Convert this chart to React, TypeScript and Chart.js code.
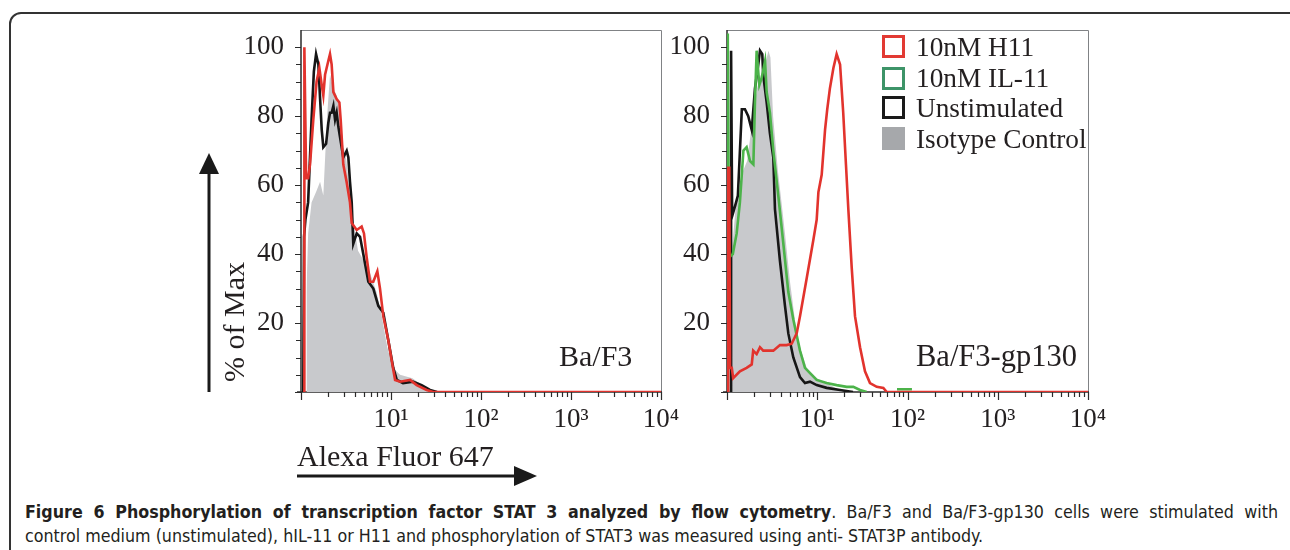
import React, { useEffect, useRef } from "react";
import { Chart, registerables } from "chart.js";

Chart.register(...registerables);

// ---------- data (fluorescence value, % of max) ----------
// Left panel: Ba/F3
const leftRedX = [1.09, 1.09, 1.14, 1.2, 1.26, 1.37, 1.49, 1.6, 1.7, 1.77, 1.85, 2.01, 2.1, 2.19, 2.29, 2.49, 2.67, 2.76, 2.95, 3.21, 3.5, 3.66, 4.16, 4.72, 5.01, 5.37, 5.84, 6.36, 7.05, 7.55, 8.21, 9.33, 10.2, 11.1, 12.6, 16.3, 19.3, 24.9, 29.3, 10000];
const leftRedY = [0, 100, 62, 62, 66, 79, 90, 94, 89, 86, 92, 96, 98, 95, 87, 85, 84, 79, 66, 61, 55, 49, 47, 48, 46, 39, 32, 32, 35, 30, 22, 15, 9, 3.5, 3, 3.5, 2, 0.6, 0, 0];

const leftBlackX = [1.06, 1.08, 1.12, 1.2, 1.31, 1.39, 1.47, 1.56, 1.63, 1.7, 1.77, 1.9, 2.01, 2.1, 2.19, 2.29, 2.39, 2.49, 2.6, 2.71, 2.95, 3.22, 3.36, 3.5, 3.66, 3.81, 4.16, 4.53, 4.92, 5.6, 6.36, 7.23, 8.21, 9.33, 10.6, 11.6, 13.6, 17.5, 21.9, 27.1, 32.4];
const leftBlackY = [0, 45, 50, 55, 79, 93, 98, 95, 85, 76, 71, 72, 78, 81, 81, 83, 79, 81, 77, 74, 68, 70, 68, 61, 55, 43, 46, 45, 40, 32, 30, 25, 23, 15, 7, 3.5, 2.6, 3, 2, 0.6, 0];

const leftIsoX = [1.15, 1.15, 1.2, 1.31, 1.47, 1.63, 1.77, 1.95, 2.1, 2.29, 2.49, 2.75, 2.92, 3.2, 3.5, 4.0, 4.3, 5.0, 5.75, 6.9, 7.9, 9.1, 10.5, 12.6, 17.3, 22.0, 27.5, 30.0];
const leftIsoY = [0, 29, 46, 55, 58, 61, 57, 80, 92, 88, 86, 80, 72, 67, 57, 46, 41, 38, 35, 29, 22, 13, 7, 5, 4, 2, 0.5, 0];

// Right panel: Ba/F3-gp130
const rightRedX = [1.03, 1.03, 1.06, 1.08, 1.13, 1.17, 1.39, 1.65, 1.88, 1.95, 2.13, 2.32, 2.52, 2.87, 3.26, 3.86, 4.58, 5.21, 5.92, 6.44, 7.64, 9.04, 9.86, 10.3, 11.2, 12.2, 12.9, 13.8, 15.1, 16.4, 17.9, 19.4, 20.8, 22.1, 24.1, 26.2, 29.8, 33.8, 38.4, 45.6, 54.0, 58.9, 10000];
const rightRedY = [0, 65, 65, 7, 7, 4, 6, 7, 8, 12, 11, 13, 12, 12, 12, 13.6, 13.6, 14, 17, 22, 33, 44, 50, 58, 63, 76, 82, 88, 94, 98, 95, 81, 66, 53, 36, 22, 13, 6, 2.6, 1.5, 1.2, 0, 0];

const rightGreenX = [1.02, 1.02, 1.05, 1.16, 1.28, 1.39, 1.52, 1.65, 1.8, 1.96, 2.04, 2.13, 2.28, 2.42, 2.64, 2.75, 2.99, 3.26, 3.7, 4.21, 4.78, 5.43, 6.44, 7.31, 8.31, 9.86, 12.7, 16.4, 21.2, 25.1, 29.8, 35.3, 50, 76.5, 112];
const rightGreenY = [0, 104, 39, 40, 46, 55, 70, 71, 67, 66, 84, 99, 89, 91, 96, 87, 81, 70, 57, 43, 29, 21, 12, 7, 5.5, 3.5, 2.6, 2, 1.5, 1.5, 0.6, 0, null, 0.8, 0.8];

const rightBlackX = [1.11, 1.11, 1.14, 1.23, 1.32, 1.46, 1.58, 1.72, 1.88, 2.04, 2.22, 2.32, 2.46, 2.52, 2.75, 2.99, 3.26, 3.4, 3.86, 4.39, 4.78, 5.43, 6.44, 7.31, 8.31, 9.86, 12.7, 17.9, 24.9];
const rightBlackY = [0, 99, 51, 54, 57, 82, 82, 80, 76, 88, 95, 99, 98, 92, 84, 75, 68, 53, 38, 25, 17, 10, 4.3, 2.6, 3, 2, 1.2, 0.6, 0];

const rightIsoX = [1.06, 1.06, 1.26, 1.5, 1.67, 1.94, 2.15, 2.38, 2.64, 2.88, 3.03, 3.24, 3.67, 4.02, 4.39, 4.99, 5.92, 6.61, 7.64, 9.86, 13.8, 17.9, 20.4];
const rightIsoY = [0, 32, 55, 64, 67, 80, 88, 92, 95, 99, 97, 80, 64, 55, 46, 32, 17, 12, 7, 4, 2, 0.5, 0];

// ticks & labels
const xTickValues = [10, 100, 1000, 10000];
const xTickLabels = ["10\u00b9", "10\u00b2", "10\u00b3", "10\u2074"];
const yTickValues = [20, 40, 60, 80, 100];
const yTickLabels = ["20", "40", "60", "80", "100"];

const legendLabels = ["10nM H11", "10nM IL-11", "Unstimulated", "Isotype Control"];

// ---------- styles ----------
const RED = "#e2332d";
const GREEN = "#4cb34a";
const BLACK = "#161616";
const GREY = "#c8c9cc";
const TEXT = "#231f20";
const SERIF = "'Liberation Serif', 'Times New Roman', serif";

const mk = (xs: number[], ys: (number | null)[]) => xs.map((x, i) => ({ x, y: ys[i] }));

const framePlugin = {
  id: "frame",
  beforeDatasetsDraw(chart: any) {
    const { ctx, chartArea: a, scales } = chart;
    const xs = scales.x;
    const ys = scales.y;
    ctx.save();
    // top & right frame
    ctx.strokeStyle = "#808285";
    ctx.lineWidth = 1;
    ctx.beginPath();
    ctx.moveTo(a.left, a.top + 0.5);
    ctx.lineTo(a.right + 0.5, a.top + 0.5);
    ctx.lineTo(a.right + 0.5, a.bottom);
    ctx.stroke();
    // axes
    ctx.strokeStyle = "#2b2b2b";
    ctx.lineWidth = 1.5;
    ctx.beginPath();
    ctx.moveTo(a.left, a.top);
    ctx.lineTo(a.left, a.bottom + 1);
    ctx.moveTo(a.left - 4, a.bottom);
    ctx.lineTo(a.right + 1, a.bottom);
    ctx.stroke();
    // y tick marks
    ctx.lineWidth = 1.2;
    ctx.beginPath();
    for (let v = 0; v <= 100; v += 5) {
      const py = Math.round(ys.getPixelForValue(v)) + 0.5;
      const len = v % 20 === 0 ? 6 : 5;
      ctx.moveTo(a.left - len, py);
      ctx.lineTo(a.left, py);
    }
    // x tick marks
    for (let e = 0; e <= 4; e++) {
      for (let d = 1; d <= 9; d++) {
        const v = d * Math.pow(10, e);
        if (v > 10000) break;
        const px = Math.round(xs.getPixelForValue(v)) + 0.5;
        const len = d === 1 ? 8 : 5;
        ctx.moveTo(px, a.bottom);
        ctx.lineTo(px, a.bottom + len);
      }
    }
    ctx.stroke();
    ctx.restore();
  },
};

function makeConfig(datasets: any[], yWidth: number, xHeight: number, padRight: number) {
  return {
    type: "line",
    data: { datasets },
    options: {
      responsive: false,
      animation: false,
      layout: { padding: { left: 0, top: 10, right: padRight, bottom: 0 } },
      plugins: { legend: { display: false }, tooltip: { enabled: false } },
      elements: { point: { radius: 0 }, line: { tension: 0 } },
      scales: {
        x: {
          type: "logarithmic",
          min: 1,
          max: 10000,
          grid: { display: false, drawTicks: false },
          border: { display: false },
          ticks: {
            autoSkip: false,
            maxRotation: 0,
            padding: 12,
            color: TEXT,
            font: { family: SERIF, size: 27 },
            callback: (v: any) => {
              const i = xTickValues.findIndex((t) => Math.abs(t - Number(v)) < 1e-6 * t);
              return i >= 0 ? xTickLabels[i] : "";
            },
          },
          afterFit: (s: any) => {
            s.height = xHeight;
            s.paddingLeft = 0;
            s.paddingRight = 0;
          },
        },
        y: {
          min: 0,
          max: 105,
          grid: { display: false, drawTicks: false },
          border: { display: false },
          ticks: {
            stepSize: 5,
            autoSkip: false,
            padding: 17,
            color: TEXT,
            font: { family: SERIF, size: 27 },
            callback: (v: any) => {
              const i = yTickValues.indexOf(Number(v));
              return i >= 0 ? yTickLabels[i] : "";
            },
          },
          afterFit: (s: any) => {
            s.width = yWidth;
            s.paddingTop = 0;
            s.paddingBottom = 0;
          },
        },
      },
    },
    plugins: [framePlugin],
  } as any;
}

const lineDs = (label: string, data: any, color: string, order: number) => ({
  label,
  data,
  borderColor: color,
  backgroundColor: color,
  borderWidth: 2.6,
  fill: false,
  spanGaps: false,
  order,
});

const fillDs = (label: string, data: any, order: number) => ({
  label,
  data,
  borderColor: GREY,
  backgroundColor: GREY,
  borderWidth: 0,
  fill: "origin",
  order,
});

export default function App() {
  const leftRef = useRef<HTMLCanvasElement>(null);
  const rightRef = useRef<HTMLCanvasElement>(null);

  useEffect(() => {
    const left = new Chart(
      leftRef.current as HTMLCanvasElement,
      makeConfig(
        [
          lineDs(legendLabels[0], mk(leftRedX, leftRedY), RED, 0),
          lineDs(legendLabels[2], mk(leftBlackX, leftBlackY), BLACK, 1),
          fillDs(legendLabels[3], mk(leftIsoX, leftIsoY), 3),
        ],
        101,
        58,
        19
      )
    );
    const right = new Chart(
      rightRef.current as HTMLCanvasElement,
      makeConfig(
        [
          lineDs(legendLabels[0], mk(rightRedX, rightRedY), RED, 0),
          lineDs(legendLabels[1], mk(rightGreenX, rightGreenY), GREEN, 1),
          lineDs(legendLabels[2], mk(rightBlackX, rightBlackY), BLACK, 2),
          fillDs(legendLabels[3], mk(rightIsoX, rightIsoY), 3),
        ],
        62,
        58,
        22
      )
    );
    return () => {
      left.destroy();
      right.destroy();
    };
  }, []);

  const abs = (s: React.CSSProperties): React.CSSProperties => ({ position: "absolute", ...s });
  const legendColors = [
    { border: "#e23a33", fill: "transparent" },
    { border: "#3d9468", fill: "transparent" },
    { border: "#1a1a1a", fill: "transparent" },
    { border: "#a6a8ab", fill: "#a6a8ab" },
  ];
  const legendCenters = [46.5, 78, 107.5, 138.5];

  return (
    <div
      style={{
        position: "absolute",
        left: 0,
        top: 0,
        width: 1290,
        height: 550,
        overflow: "hidden",
        background: "#fff",
        fontFamily: SERIF,
        color: TEXT,
      }}
    >
      <div
        style={abs({
          left: 9,
          top: 12,
          width: 1320,
          height: 620,
          border: "2px solid #333",
          borderRadius: 12,
          boxSizing: "border-box",
        })}
      />
      <canvas ref={leftRef} width={480} height={430} style={abs({ left: 200, top: 20, width: 480, height: 430 })} />
      <canvas ref={rightRef} width={445} height={430} style={abs({ left: 665, top: 20, width: 445, height: 430 })} />

      {/* y-axis title with arrow */}
      <div
        style={abs({
          left: 234,
          top: 322,
          transform: "translate(-50%, -50%) rotate(-90deg)",
          fontSize: 30,
          lineHeight: "30px",
          whiteSpace: "nowrap",
        })}
      >
        % of Max
      </div>
      <svg style={abs({ left: 195, top: 150, width: 30, height: 245 })} width={30} height={245}>
        <line x1={14} y1={242} x2={14} y2={20} stroke="#1a1a1a" strokeWidth={3} />
        <polygon points="14,3 4,24 24,24" fill="#1a1a1a" />
      </svg>

      {/* x-axis title with arrow */}
      <div style={abs({ left: 297, top: 441, fontSize: 30, lineHeight: "30px", whiteSpace: "nowrap" })}>
        Alexa Fluor 647
      </div>
      <svg style={abs({ left: 295, top: 464, width: 245, height: 24 })} width={245} height={24}>
        <line x1={2} y1={12} x2={222} y2={12} stroke="#1a1a1a" strokeWidth={3} />
        <polygon points="242,12 219,2 219,22" fill="#1a1a1a" />
      </svg>

      {/* panel labels */}
      <div style={abs({ left: 559, top: 341, fontSize: 30, lineHeight: "30px", whiteSpace: "nowrap" })}>Ba/F3</div>
      <div style={abs({ left: 916, top: 341, fontSize: 30.5, lineHeight: "30px", whiteSpace: "nowrap" })}>
        Ba/F3-gp130
      </div>

      {/* legend */}
      {legendLabels.map((lab, i) => (
        <React.Fragment key={lab}>
          <div
            style={abs({
              left: 882,
              top: legendCenters[i] - 11.5,
              width: 23,
              height: 23,
              boxSizing: "border-box",
              border: `3px solid ${legendColors[i].border}`,
              background: legendColors[i].fill,
            })}
          />
          <div
            style={abs({
              left: 916,
              top: legendCenters[i] - 14,
              fontSize: 27.3,
              lineHeight: "28px",
              whiteSpace: "nowrap",
            })}
          >
            {lab}
          </div>
        </React.Fragment>
      ))}

      {/* caption */}
      <div
        style={abs({
          left: 25,
          top: 500,
          width: 1253,
          fontFamily: "'Liberation Sans Narrow', 'DejaVu Sans Condensed', 'Open Sans', sans-serif",
          fontSize: 17.7,
          lineHeight: "24px",
          color: "#231f20",
        })}
      >
        <div style={{ textAlign: "justify", textAlignLast: "justify" }}>
          <b>Figure 6 Phosphorylation of transcription factor STAT 3 analyzed by flow cytometry</b>. Ba/F3 and
          Ba/F3-gp130 cells were stimulated with
        </div>
        <div>
          control medium (unstimulated), hIL-11 or H11 and phosphorylation of STAT3 was measured using anti- STAT3P
          antibody.
        </div>
      </div>
    </div>
  );
}
